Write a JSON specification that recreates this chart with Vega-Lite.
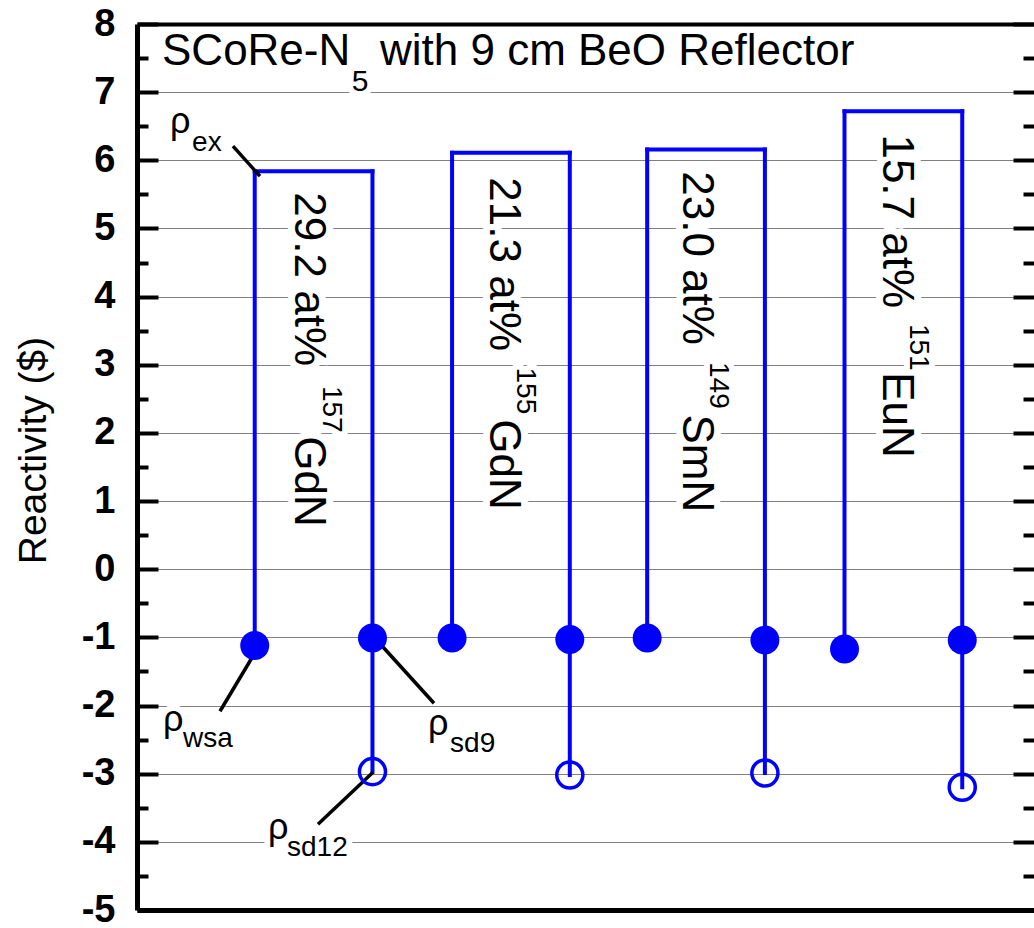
{
  "$schema": "https://vega.github.io/schema/vega-lite/v6.json",
  "width": 897,
  "height": 886,
  "autosize": "none",
  "padding": {"left": 137, "top": 24, "right": 0, "bottom": 18},
  "background": "white",
  "config": {"view": {"stroke": null}, "font": "Liberation Sans"},
  "datasets": {
    "samples": [
      {"material": "157GdN", "x_l": 1.05, "x_r": 2.10, "ex": 5.84, "wsa": -1.12, "sd9": -1.01, "sd12": -2.97},
      {"material": "155GdN", "x_l": 2.81, "x_r": 3.86, "ex": 6.11, "wsa": -1.01, "sd9": -1.03, "sd12": -3.02},
      {"material": "149SmN", "x_l": 4.55, "x_r": 5.60, "ex": 6.16, "wsa": -1.01, "sd9": -1.04, "sd12": -2.99},
      {"material": "151EuN", "x_l": 6.31, "x_r": 7.36, "ex": 6.72, "wsa": -1.17, "sd9": -1.04, "sd12": -3.20}
    ],
    "vlabels": [
      {"text": "29.2 at%", "kind": "main", "x": 1.41, "y": 5.53},
      {"text": "157", "kind": "sup", "x": 1.66, "y": 2.69},
      {"text": "GdN", "kind": "main", "x": 1.41, "y": 1.95},
      {"text": "21.3 at%", "kind": "main", "x": 3.15, "y": 5.75},
      {"text": "155", "kind": "sup", "x": 3.39, "y": 2.96},
      {"text": "GdN", "kind": "main", "x": 3.15, "y": 2.20},
      {"text": "23.0 at%", "kind": "main", "x": 4.87, "y": 5.84},
      {"text": "149", "kind": "sup", "x": 5.11, "y": 3.04},
      {"text": "SmN", "kind": "main", "x": 4.87, "y": 2.27},
      {"text": "15.7 at%", "kind": "main", "x": 6.65, "y": 6.38},
      {"text": "151", "kind": "sup", "x": 6.89, "y": 3.60},
      {"text": "EuN", "kind": "main", "x": 6.65, "y": 2.89}
    ],
    "hlabels": [
      {"text": "SCoRe-N", "kind": "title", "x": 0.223, "y": 7.395},
      {"text": "5", "kind": "titlesub", "x": 1.915, "y": 7.014},
      {"text": "with 9 cm BeO Reflector", "kind": "title", "x": 2.167, "y": 7.395},
      {"text": "ρ", "kind": "rho", "x": 0.294, "y": 6.398},
      {"text": "ex", "kind": "rhosub", "x": 0.491, "y": 6.134},
      {"text": "ρ", "kind": "rho", "x": 0.232, "y": -2.377},
      {"text": "wsa", "kind": "rhosub", "x": 0.41, "y": -2.612},
      {"text": "ρ", "kind": "rho", "x": 2.595, "y": -2.436},
      {"text": "sd9", "kind": "rhosub", "x": 2.792, "y": -2.685},
      {"text": "ρ", "kind": "rho", "x": 1.168, "y": -3.962},
      {"text": "sd12", "kind": "rhosub", "x": 1.338, "y": -4.211}
    ],
    "leaders": [
      {"x": 0.856, "y": 6.207, "x2": 1.097, "y2": 5.767},
      {"x": 0.74, "y": -2.084, "x2": 1.097, "y2": -1.101},
      {"x": 2.123, "y": -1.012, "x2": 2.649, "y2": -1.966},
      {"x": 1.614, "y": -3.742, "x2": 2.105, "y2": -2.979}
    ]
  },
  "resolve": {"axis": {"x": "independent", "y": "independent"}},
  "layer": [
    {
      "data": {"name": "samples"},
      "mark": {"type": "rule", "color": "#0000ff", "strokeWidth": 4, "strokeCap": "square"},
      "encoding": {
        "x": {"field": "x_l", "type": "quantitative",
          "scale": {"domain": [0, 8], "nice": false, "zero": false},
          "axis": {"orient": "bottom", "title": null, "labels": false, "ticks": false, "grid": false, "domainColor": "black", "domainWidth": 5}},
        "y": {"field": "wsa", "type": "quantitative",
          "scale": {"domain": [-5, 8], "nice": false, "zero": false},
          "axis": {
            "orient": "left",
            "title": "Reactivity ($)",
            "values": [-5,-4.5,-4,-3.5,-3,-2.5,-2,-1.5,-1,-0.5,0,0.5,1,1.5,2,2.5,3,3.5,4,4.5,5,5.5,6,6.5,7,7.5,8],
            "labelExpr": "datum.value % 1 === 0 ? '' + datum.value : ''",
            "labelFont": "Liberation Sans", "labelFontSize": 38, "labelFontWeight": "bold", "labelColor": "black",
            "labelPadding": 43, "labelFlush": false, "labelOverlap": false, "labelBound": false,
            "tickSize": {"condition": {"test": "datum.value % 1 !== 0", "value": -11}, "value": -21},
            "tickWidth": 4, "tickColor": "black",
            "domainColor": "black", "domainWidth": 5,
            "grid": true, "gridColor": "#808080", "gridWidth": 1.2,
            "gridOpacity": {"condition": {"test": "datum.value % 1 !== 0", "value": 0}, "value": 1},
            "titleFont": "Liberation Sans", "titleFontSize": 39, "titleFontWeight": "normal", "titleColor": "black",
            "titleAngle": 270, "titleX": -92, "titleY": 426, "titleBaseline": "alphabetic", "titleAlign": "center"
          }},
        "y2": {"field": "ex"}
      }
    },
    {
      "data": {"name": "samples"},
      "mark": {"type": "rule", "color": "#0000ff", "strokeWidth": 4, "strokeCap": "square"},
      "encoding": {
        "x": {"field": "x_r", "type": "quantitative",
          "axis": {"orient": "top", "title": null, "labels": false, "ticks": false, "grid": false, "domainColor": "black", "domainWidth": 4}},
        "y": {"field": "ex", "type": "quantitative",
          "axis": {
            "orient": "right", "title": null, "labels": false, "domain": false, "grid": false,
            "values": [-5,-4.5,-4,-3.5,-3,-2.5,-2,-1.5,-1,-0.5,0,0.5,1,1.5,2,2.5,3,3.5,4,4.5,5,5.5,6,6.5,7,7.5,8],
            "tickSize": {"condition": {"test": "datum.value % 1 !== 0", "value": -11}, "value": -21},
            "tickWidth": 4, "tickColor": "black"
          }},
        "y2": {"field": "sd12"}
      }
    },
    {
      "data": {"name": "samples"},
      "mark": {"type": "rule", "color": "#0000ff", "strokeWidth": 4, "strokeCap": "square"},
      "encoding": {
        "x": {"field": "x_l", "type": "quantitative", "axis": null},
        "x2": {"field": "x_r"},
        "y": {"field": "ex", "type": "quantitative", "axis": null}
      }
    },
    {
      "data": {"name": "vlabels"},
      "encoding": {
        "x": {"field": "x", "type": "quantitative", "axis": null},
        "y": {"field": "y", "type": "quantitative", "axis": null},
        "text": {"field": "text"}
      },
      "layer": [
        {"transform": [{"filter": "datum.kind === 'main'"}],
         "mark": {"type": "text", "angle": 90, "align": "left", "baseline": "alphabetic", "font": "Liberation Sans", "fontSize": 44, "fill": "white", "stroke": "white", "strokeWidth": 14, "strokeJoin": "round"}},
        {"transform": [{"filter": "datum.kind === 'sup'"}],
         "mark": {"type": "text", "angle": 90, "align": "left", "baseline": "alphabetic", "font": "Liberation Sans", "fontSize": 28, "fill": "white", "stroke": "white", "strokeWidth": 12, "strokeJoin": "round"}}
      ]
    },
    {
      "data": {"name": "hlabels"},
      "encoding": {
        "x": {"field": "x", "type": "quantitative", "axis": null},
        "y": {"field": "y", "type": "quantitative", "axis": null},
        "text": {"field": "text"}
      },
      "layer": [
        {"transform": [{"filter": "datum.kind === 'title'"}],
         "mark": {"type": "text", "align": "left", "baseline": "alphabetic", "font": "Liberation Sans", "fontSize": 44, "fill": "white", "stroke": "white", "strokeWidth": 12, "strokeJoin": "round"}},
        {"transform": [{"filter": "datum.kind === 'titlesub'"}],
         "mark": {"type": "text", "align": "left", "baseline": "alphabetic", "font": "Liberation Sans", "fontSize": 30, "fill": "white", "stroke": "white", "strokeWidth": 12, "strokeJoin": "round"}},
        {"transform": [{"filter": "datum.kind === 'rho'"}],
         "mark": {"type": "text", "align": "left", "baseline": "alphabetic", "font": "Liberation Sans", "fontSize": 36, "fill": "white", "stroke": "white", "strokeWidth": 12, "strokeJoin": "round"}},
        {"transform": [{"filter": "datum.kind === 'rhosub'"}],
         "mark": {"type": "text", "align": "left", "baseline": "alphabetic", "font": "Liberation Sans", "fontSize": 28, "fill": "white", "stroke": "white", "strokeWidth": 12, "strokeJoin": "round"}}
      ]
    },
    {
      "data": {"name": "leaders"},
      "mark": {"type": "rule", "color": "black", "strokeWidth": 3.5},
      "encoding": {
        "x": {"field": "x", "type": "quantitative", "axis": null},
        "y": {"field": "y", "type": "quantitative", "axis": null},
        "x2": {"field": "x2"},
        "y2": {"field": "y2"}
      }
    },
    {
      "data": {"name": "samples"},
      "mark": {"type": "point", "shape": "circle", "filled": true, "color": "#0000ff", "size": 840, "opacity": 1},
      "encoding": {
        "x": {"field": "x_l", "type": "quantitative", "axis": null},
        "y": {"field": "wsa", "type": "quantitative", "axis": null}
      }
    },
    {
      "data": {"name": "samples"},
      "mark": {"type": "point", "shape": "circle", "filled": true, "color": "#0000ff", "size": 840, "opacity": 1},
      "encoding": {
        "x": {"field": "x_r", "type": "quantitative", "axis": null},
        "y": {"field": "sd9", "type": "quantitative", "axis": null}
      }
    },
    {
      "data": {"name": "samples"},
      "mark": {"type": "point", "shape": "circle", "filled": false, "color": "#0000ff", "size": 680, "strokeWidth": 3.5, "opacity": 1},
      "encoding": {
        "x": {"field": "x_r", "type": "quantitative", "axis": null},
        "y": {"field": "sd12", "type": "quantitative", "axis": null}
      }
    },
    {
      "mark": {"type": "rule", "color": "black", "strokeWidth": 7},
      "encoding": {
        "y": {"datum": 0, "type": "quantitative", "axis": null}
      }
    },
    {
      "data": {"name": "vlabels"},
      "encoding": {
        "x": {"field": "x", "type": "quantitative", "axis": null},
        "y": {"field": "y", "type": "quantitative", "axis": null},
        "text": {"field": "text"}
      },
      "layer": [
        {"transform": [{"filter": "datum.kind === 'main'"}],
         "mark": {"type": "text", "angle": 90, "align": "left", "baseline": "alphabetic", "font": "Liberation Sans", "fontSize": 44, "color": "black"}},
        {"transform": [{"filter": "datum.kind === 'sup'"}],
         "mark": {"type": "text", "angle": 90, "align": "left", "baseline": "alphabetic", "font": "Liberation Sans", "fontSize": 28, "color": "black"}}
      ]
    },
    {
      "data": {"name": "hlabels"},
      "encoding": {
        "x": {"field": "x", "type": "quantitative", "axis": null},
        "y": {"field": "y", "type": "quantitative", "axis": null},
        "text": {"field": "text"}
      },
      "layer": [
        {"transform": [{"filter": "datum.kind === 'title'"}],
         "mark": {"type": "text", "align": "left", "baseline": "alphabetic", "font": "Liberation Sans", "fontSize": 44, "color": "black"}},
        {"transform": [{"filter": "datum.kind === 'titlesub'"}],
         "mark": {"type": "text", "align": "left", "baseline": "alphabetic", "font": "Liberation Sans", "fontSize": 30, "color": "black"}},
        {"transform": [{"filter": "datum.kind === 'rho'"}],
         "mark": {"type": "text", "align": "left", "baseline": "alphabetic", "font": "Liberation Sans", "fontSize": 36, "color": "black"}},
        {"transform": [{"filter": "datum.kind === 'rhosub'"}],
         "mark": {"type": "text", "align": "left", "baseline": "alphabetic", "font": "Liberation Sans", "fontSize": 28, "color": "black"}}
      ]
    }
  ]
}
